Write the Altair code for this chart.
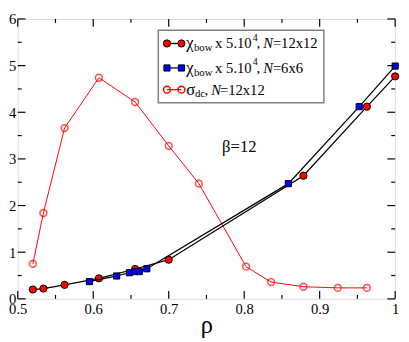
import altair as alt
import pandas as pd

FONT = "Liberation Serif, Times New Roman, serif"
W, H = 387, 287

# data
rho12 = [0.520, 0.534, 0.562, 0.6075, 0.6555, 0.700, 0.8785, 0.9626, 1.0]
chi12 = [0.20, 0.22, 0.30, 0.44, 0.64, 0.84, 2.64, 4.12, 4.77]
rho6 = [0.595, 0.631, 0.648, 0.6555, 0.661, 0.671, 0.8585, 0.9524, 1.0]
chi6 = [0.37, 0.49, 0.56, 0.585, 0.585, 0.645, 2.47, 4.12, 4.99]
rho_s = [0.520, 0.534, 0.562, 0.6075, 0.6555, 0.700, 0.740, 0.8025, 0.8356, 0.8785, 0.924, 0.9626]
sigma = [0.75, 1.84, 3.66, 4.74, 4.22, 3.28, 2.47, 0.69, 0.36, 0.26, 0.235, 0.235]

x_major = [0.5, 0.6, 0.7, 0.8, 0.9, 1.0]
x_minor = [0.55, 0.65, 0.75, 0.85, 0.95]
y_major = [0, 1, 2, 3, 4, 5, 6]
y_minor = [0.5, 1.5, 2.5, 3.5, 4.5, 5.5]

xs = alt.Scale(domain=[0.5, 1.0], nice=False, zero=False)
ys = alt.Scale(domain=[0, 6], nice=False, zero=False)

df12 = pd.DataFrame({"rho": rho12, "v": chi12})
df6 = pd.DataFrame({"rho": rho6, "v": chi6})
dfs = pd.DataFrame({"rho": rho_s, "v": sigma})

one = pd.DataFrame({"a": [0]})


def mx(rx):
    return (rx - 12) * W / 392


def my(ry):
    return (ry - 6) * H / 297


xaxis = alt.Axis(values=x_major, labelExpr="datum.value == 1 ? '1' : format(datum.value, '.1f')",
                 title="ρ", titleFont=FONT, titleFontSize=25, titleFontWeight="normal",
                 labelFont=FONT, labelFontSize=15, labelPadding=3, titlePadding=-3,
                 ticks=False, domain=False, grid=False, labelColor="black", titleColor="black",
                 labelFlush=False, labelOverlap=False)
yaxis = alt.Axis(values=y_major, title=None, labelFont=FONT, labelFontSize=15, labelPadding=2,
                 ticks=False, domain=False, grid=False, labelColor="black", labelFlush=False,
                 labelOverlap=False)


def X(f):
    return alt.X(f, scale=xs, axis=xaxis)


def Y(f):
    return alt.Y(f, scale=ys, axis=yaxis)


# sigma_dc series
s_line = alt.Chart(dfs).mark_line(color="#ff0000", strokeWidth=1).encode(x=X("rho:Q"), y=Y("v:Q"))
s_pts = alt.Chart(dfs).mark_point(shape="circle", size=50, filled=False, stroke="#ff0000",
                                  strokeWidth=1.5, clip=False).encode(x=X("rho:Q"), y=Y("v:Q"))

l12 = alt.Chart(df12).mark_line(color="black", strokeWidth=1.3).encode(x=X("rho:Q"), y=Y("v:Q"))
l6 = alt.Chart(df6).mark_line(color="black", strokeWidth=1.3).encode(x=X("rho:Q"), y=Y("v:Q"))
p12 = alt.Chart(df12).mark_point(shape="circle", size=55, filled=True, fill="#ff0000", stroke="black",
                                 strokeWidth=1, opacity=1, clip=False).encode(x=X("rho:Q"), y=Y("v:Q"))
p6 = alt.Chart(df6).mark_point(shape="square", size=40, filled=True, fill="#0000ff", stroke="black",
                               strokeWidth=1, opacity=1, clip=False).encode(x=X("rho:Q"), y=Y("v:Q"))


def xticks(vals, length, top):
    d = pd.DataFrame({"rho": vals})
    y1, y2 = (0, length) if top else (H, H - length)
    return alt.Chart(d).mark_rule(color="black", strokeWidth=1.2).encode(
        x=X("rho:Q"), y=alt.value(y1), y2=alt.value(y2))


def yticks(vals, length, right):
    d = pd.DataFrame({"v": vals})
    x1, x2 = (W, W - length) if right else (0, length)
    return alt.Chart(d).mark_rule(color="black", strokeWidth=1.2).encode(
        y=Y("v:Q"), x=alt.value(x1), x2=alt.value(x2))


ticks = [xticks(x_major, 8, False), xticks(x_minor, 4, False), xticks(x_major, 8, True), xticks(x_minor, 4, True),
         yticks(y_major, 8, False), yticks(y_minor, 4, False), yticks(y_major, 8, True), yticks(y_minor, 4, True)]


def txt(s, rx, ry, size, color="black", italic=False, dy=0):
    return alt.Chart(one).mark_text(text=s, align="left", baseline="middle", font=FONT, fontSize=size,
                                    fontStyle="italic" if italic else "normal", color=color).encode(
        x=alt.value(mx(rx)), y=alt.value(my(ry) + dy))


def sym(rx, ry, shape, fill, stroke, size, sw=1.0):
    return alt.Chart(one).mark_point(shape=shape, size=size, filled=fill != "none",
                                     fill=fill if fill != "none" else "transparent",
                                     stroke=stroke, strokeWidth=sw, opacity=1).encode(
        x=alt.value(mx(rx)), y=alt.value(my(ry)))


def seg(rx1, rx2, ry, color):
    return alt.Chart(one).mark_rule(color=color, strokeWidth=1.3).encode(
        x=alt.value(mx(rx1)), x2=alt.value(mx(rx2)), y=alt.value(my(ry)))


box = alt.Chart(one).mark_rect(fill="white", stroke="#808080", strokeWidth=1.5).encode(
    x=alt.value(mx(158)), x2=alt.value(mx(330)), y=alt.value(my(18)), y2=alt.value(my(95)))

r1, r2, r3 = 32, 58, 81
legend = [box,
          seg(167, 182, r1, "black"), sym(167, r1, "circle", "#ff0000", "black", 55), sym(182, r1, "circle", "#ff0000", "black", 55),
          txt("χ", 187, r1, 17), txt("bow", 195, r1, 11, dy=5), txt("x 5.10", 217, r1, 15), txt("4", 256, r1, 10, dy=-6),
          txt(",", 260, r1, 15), txt("N", 267, r1, 15, italic=True), txt("=12x12", 277, r1, 15),
          seg(167, 182, r2, "black"), sym(167, r2, "square", "#0000ff", "black", 40), sym(182, r2, "square", "#0000ff", "black", 40),
          txt("χ", 187, r2, 17), txt("bow", 195, r2, 11, dy=5), txt("x 5.10", 217, r2, 15), txt("4", 256, r2, 10, dy=-6),
          txt(",", 260, r2, 15), txt("N", 267, r2, 15, italic=True), txt("=6x6", 277, r2, 15),
          seg(167, 182, r3, "#ff0000"), sym(167, r3, "circle", "none", "#ff0000", 50, 1.5), sym(182, r3, "circle", "none", "#ff0000", 50, 1.5),
          txt("σ", 187, r3, 17), txt("dc", 196, r3, 11, dy=5), txt(",", 206, r3, 15), txt("N", 213, r3, 15, italic=True),
          txt("=12x12", 222, r3, 15),
          ]

beta = alt.Chart(pd.DataFrame({"rho": [0.7935], "v": [3.25], "t": ["β=12"]})).mark_text(
    font=FONT, fontSize=17, color="black").encode(x=X("rho:Q"), y=Y("v:Q"), text="t:N")

chart = alt.layer(s_line, s_pts, l12, p12, l6, p6, beta, *ticks, *legend).properties(
    width=W, height=H, padding=0
).configure_view(stroke="black", strokeWidth=2).configure(background="white")

chart.save("out.html", embed_options={"renderer": "svg", "actions": False})
